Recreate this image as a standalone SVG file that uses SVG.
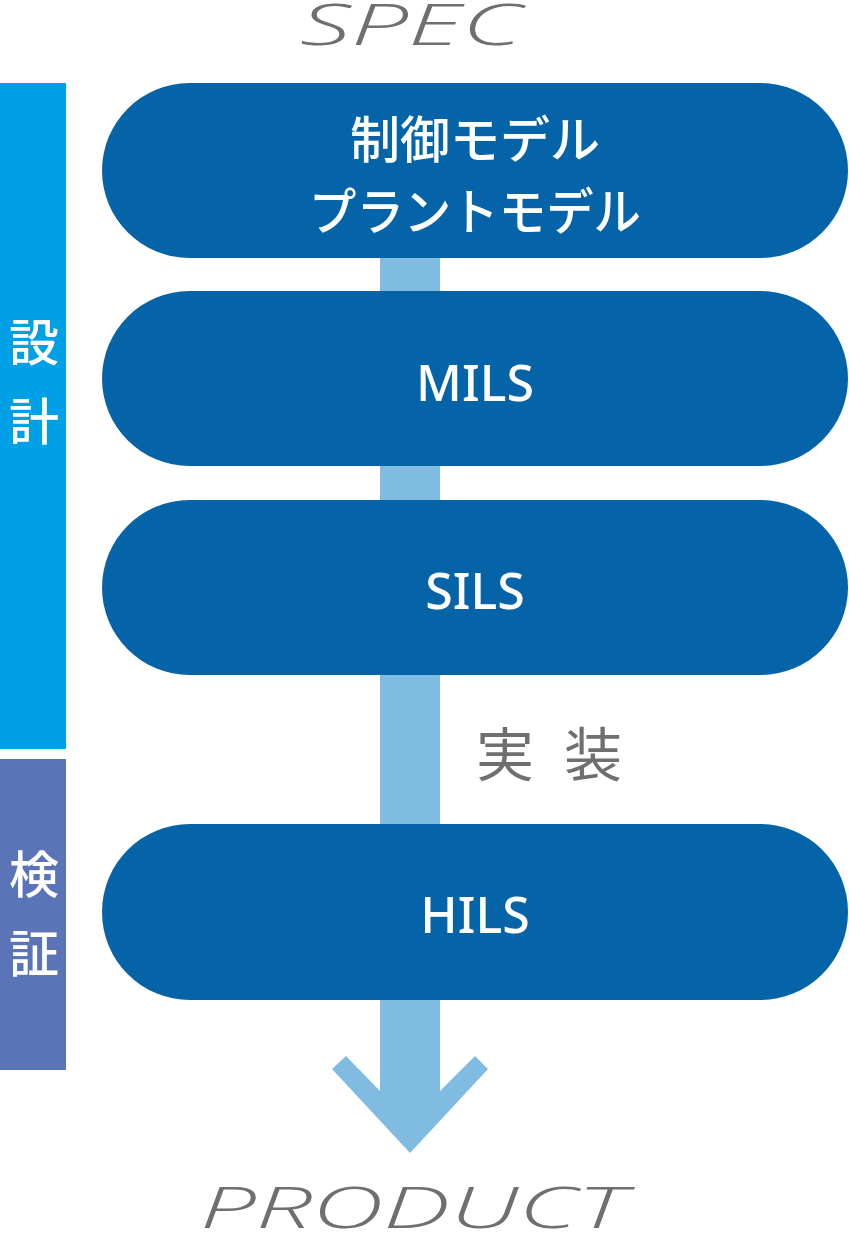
<svg xmlns="http://www.w3.org/2000/svg" width="849" height="1233" viewBox="0 0 849 1233">
<style>
.pill{fill:#0563a8}
.pt{fill:#ffffff;font-family:"Noto Sans","Noto Sans CJK JP",sans-serif;font-weight:500;font-size:50px;text-anchor:middle}
.jp{fill:#ffffff;font-family:"Noto Sans CJK JP",sans-serif;font-weight:500;font-size:50px;text-anchor:middle}
.side{fill:#ffffff;font-family:"Noto Sans CJK JP",sans-serif;font-weight:500;font-size:50px;text-anchor:middle}
.eng{fill:#6f6f6f;font-family:"Open Sans","Liberation Sans",sans-serif;font-style:italic;font-weight:300;font-size:57px}
.gray{fill:#6f6f6f;font-family:"Noto Sans CJK JP",sans-serif;font-size:58px}
</style>
<rect width="849" height="1233" fill="#ffffff"/>
<g id="label-spec"><text class="eng" x="300" y="45" textLength="222" lengthAdjust="spacingAndGlyphs">SPEC</text></g>
<g id="phase-design">
<rect x="0" y="83" width="66" height="666" fill="#00a0e6"/>
<text class="side" x="34" y="361">設</text>
<text class="side" x="34" y="440">計</text>
</g>
<g id="phase-verify">
<rect x="0" y="759" width="66" height="311" fill="#5a74b7"/>
<text class="side" x="34" y="893">検</text>
<text class="side" x="34" y="972">証</text>
</g>
<g id="connectors">
<polygon points="380,258 440,258 440,1091 475,1056 488,1069 410,1153 332,1069 346,1056 380,1091" fill="#80bce2"/>
</g>
<g id="node-model">
<rect class="pill" x="102" y="83" width="746" height="175" rx="87.5"/>
<text class="jp" x="475" y="158">制御モデル</text>
<text class="jp" x="475" y="230" textLength="332" lengthAdjust="spacingAndGlyphs">プラントモデル</text>
</g>
<g id="node-mils">
<rect class="pill" x="102" y="291" width="746" height="175" rx="87.5"/>
<text class="pt" x="475" y="401">MILS</text>
</g>
<g id="node-sils">
<rect class="pill" x="102" y="500" width="746" height="175" rx="87.5"/>
<text class="pt" x="475" y="609">SILS</text>
</g>
<g id="label-impl">
<text class="gray" x="476" y="776">実</text>
<text class="gray" x="564" y="776">装</text>
</g>
<g id="node-hils">
<rect class="pill" x="102" y="824" width="746" height="176" rx="88"/>
<text class="pt" x="475" y="933">HILS</text>
</g>
<g id="label-product"><text class="eng" x="200" y="1228" textLength="426" lengthAdjust="spacingAndGlyphs">PRODUCT</text></g>
</svg>
